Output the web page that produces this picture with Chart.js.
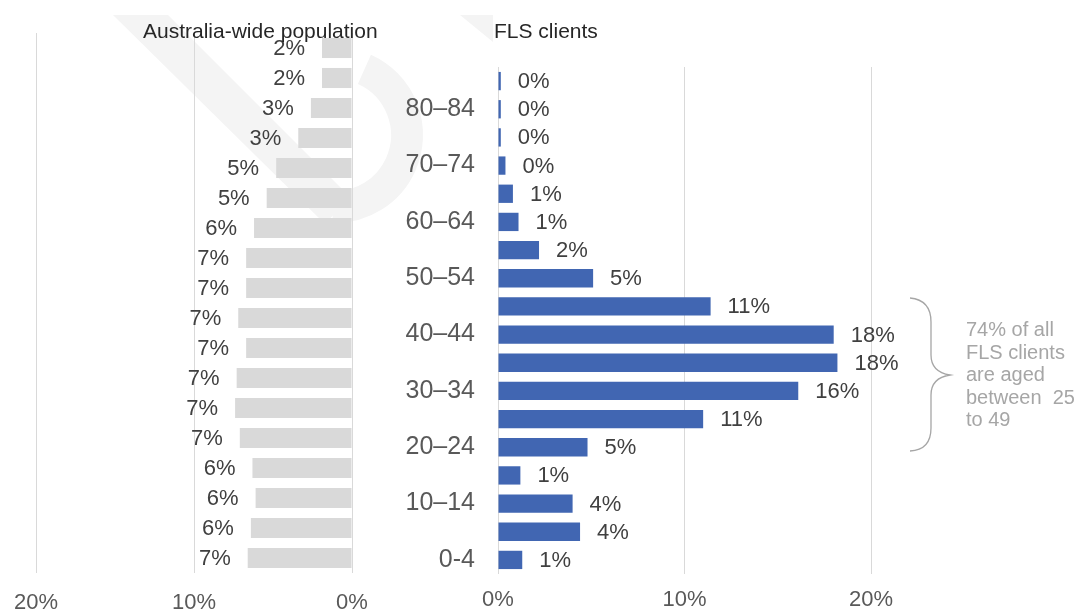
<!DOCTYPE html>
<html>
<head>
<meta charset="utf-8">
<script src="https://cdn.jsdelivr.net/npm/chart.js@4.4.0/dist/chart.umd.min.js"></script>
<style>
    body { margin: 0; background: #fff; width: 1078px; height: 612px; overflow: hidden; position: relative; font-family: "Liberation Sans", Arial, sans-serif; }
    canvas { position: absolute; top: 0; }
    #bg { left: 0; }
    #leftChart { left: 0; }
    #rightChart { left: 380px; }
    .title { position: absolute; top: 19px; font-size: 21px; color: #262626; white-space: nowrap; }
    #note { position: absolute; left: 966px; top: 318px; font-size: 20px; line-height: 22.5px; color: #a6a6a6; white-space: pre; }
</style>
</head>
<body>
<canvas id="bg" width="1078" height="612"></canvas>
<canvas id="leftChart" width="400" height="612"></canvas>
<canvas id="rightChart" width="698" height="612"></canvas>
<div class="title" style="left:143px">Australia-wide population</div>
<div class="title" style="left:494px">FLS clients</div>
<div id="note">74% of all
FLS clients
are aged
between  25
to 49</div>
<script>
// Age groups, youngest first (drawn bottom to top)
const ageGroups = ['0-4', '5–9', '10–14', '15–19', '20–24', '25–29', '30–34', '35–39', '40–44',
    '45–49', '50–54', '55–59', '60–64', '65–69', '70–74', '75–79', '80–84', '85+'];

// Share of population in each age group (%)
const australiaPct = [6.6, 6.4, 6.1, 6.3, 7.1, 7.4, 7.3, 6.7, 7.2, 6.7, 6.7, 6.2, 5.4, 4.8, 3.4, 2.6, 1.9, 1.9];
const flsPct = [1.3, 4.4, 4.0, 1.2, 4.8, 11.0, 16.1, 18.2, 18.0, 11.4, 5.1, 2.2, 1.1, 0.8, 0.4, 0.15, 0.15, 0.15];

// Axis ticks (%)
const axisMin = 0;
const axisMax = 20;
const axisStep = 10;

const tickColor = '#595959';
const labelColor = '#404040';
const gridColor = '#d9d9d9';

// Draws the rounded % value at the end of each bar
const barLabels = {
    id: 'barLabels',
    afterDatasetsDraw(chart, args, opts) {
        const ctx = chart.ctx;
        const meta = chart.getDatasetMeta(0);
        const values = chart.data.datasets[0].data;
        ctx.save();
        ctx.font = opts.font;
        ctx.fillStyle = opts.color;
        ctx.textBaseline = 'middle';
        ctx.textAlign = opts.side === 'left' ? 'right' : 'left';
        meta.data.forEach((bar, i) => {
            const x = opts.side === 'left' ? bar.x - opts.offset : bar.x + opts.offset;
            ctx.fillText(Math.round(values[i]) + '%', x, bar.y + 1);
        });
        ctx.restore();
    }
};

function xScale(reverse, height, pad) {
    return {
        min: axisMin,
        max: axisMax,
        reverse: reverse,
        grid: { color: gridColor, lineWidth: 1, drawTicks: false },
        border: { display: false },
        ticks: {
            stepSize: axisStep,
            padding: pad,
            maxRotation: 0,
            color: tickColor,
            font: { family: 'Liberation Sans', size: 22 },
            callback: v => v + '%'
        },
        afterFit(scale) {
            scale.height = height;
            scale.paddingLeft = 0;
            scale.paddingRight = 0;
        }
    };
}

// Left panel: Australia-wide population, bars grow to the left
new Chart(document.getElementById('leftChart'), {
    type: 'bar',
    data: {
        labels: ageGroups,
        datasets: [{
            data: australiaPct,
            backgroundColor: '#d9d9d9',
            categoryPercentage: 1,
            barPercentage: 0.67
        }]
    },
    options: {
        indexAxis: 'y',
        responsive: false,
        animation: false,
        layout: { padding: { left: 36, right: 48, top: 33, bottom: 0 } },
        plugins: {
            legend: { display: false },
            tooltip: { enabled: false },
            barLabels: { side: 'left', offset: 17, font: '22px "Liberation Sans"', color: labelColor }
        },
        scales: {
            x: xScale(true, 39, 17),
            y: { reverse: true, display: false }
        }
    },
    plugins: [barLabels]
});

// Right panel: FLS clients
new Chart(document.getElementById('rightChart'), {
    type: 'bar',
    data: {
        labels: ageGroups,
        datasets: [{
            data: flsPct,
            backgroundColor: '#4166b2',
            categoryPercentage: 1,
            barPercentage: 0.65
        }]
    },
    options: {
        indexAxis: 'y',
        responsive: false,
        animation: false,
        layout: { padding: { left: 0, right: 207, top: 67, bottom: 0 } },
        plugins: {
            legend: { display: false },
            tooltip: { enabled: false },
            barLabels: { side: 'right', offset: 17, font: '22px "Liberation Sans"', color: labelColor }
        },
        scales: {
            x: xScale(false, 35, 13),
            y: {
                reverse: true,
                grid: { display: false, drawTicks: false },
                border: { display: false },
                ticks: {
                    autoSkip: false,
                    padding: 23,
                    color: tickColor,
                    font: { family: 'Liberation Sans', size: 25 },
                    callback: function (value, index) {
                        return index % 2 === 0 ? this.getLabelForValue(value) : '';
                    }
                },
                afterFit(scale) { scale.width = 118; }
            }
        }
    },
    plugins: [barLabels]
});

// Faint watermark and the bracket next to the note
const bg = document.getElementById('bg').getContext('2d');
bg.fillStyle = '#f4f4f4';
bg.beginPath();
bg.moveTo(113, 15);
bg.lineTo(168, 15);
bg.lineTo(350, 197);
bg.lineTo(325, 224);
bg.closePath();
bg.fill();
bg.beginPath();
bg.moveTo(460, 15);
bg.lineTo(493, 15);
bg.lineTo(493, 42);
bg.closePath();
bg.fill();
bg.strokeStyle = '#f4f4f4';
bg.lineWidth = 32;
bg.beginPath();
bg.arc(335, 135, 72, -1.15, 1.6);
bg.stroke();

bg.strokeStyle = '#a6a6a6';
bg.lineWidth = 1.3;
bg.beginPath();
bg.moveTo(910, 298);
bg.quadraticCurveTo(931, 300, 931, 322);
bg.lineTo(931, 355);
bg.quadraticCurveTo(931, 372, 950, 375);
bg.quadraticCurveTo(931, 378, 931, 395);
bg.lineTo(931, 428);
bg.quadraticCurveTo(931, 450, 910, 451);
bg.stroke();
</script>
</body>
</html>
